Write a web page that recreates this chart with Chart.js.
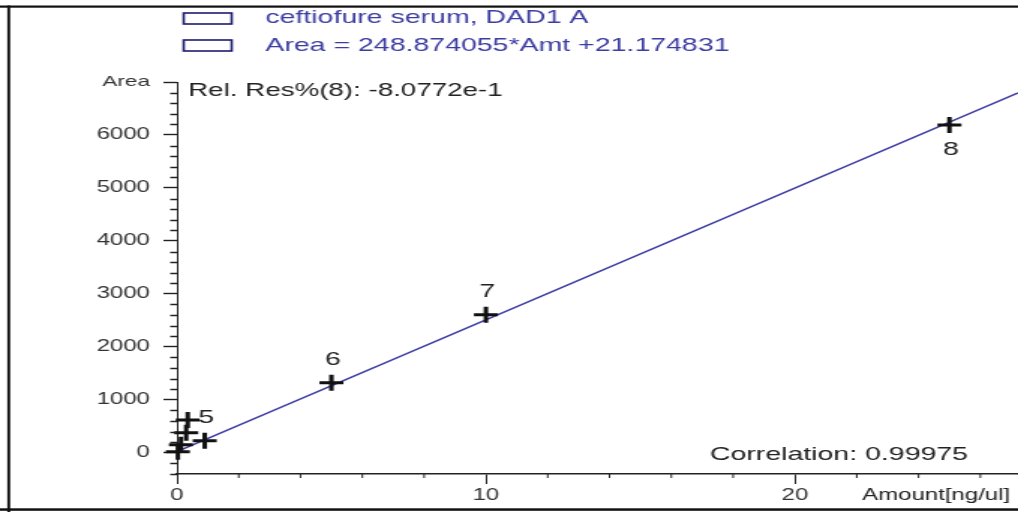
<!DOCTYPE html>
<html>
<head>
<meta charset="utf-8">
<script src="https://cdn.jsdelivr.net/npm/chart.js@4.4.1/dist/chart.umd.min.js"></script>
<style>
  html, body { margin: 0; padding: 0; background: #fff; overflow: hidden; }
  #wrap { width: 1018px; height: 512px; overflow: hidden; }
  #plot { transform-origin: 0 0; transform: scaleX(1.4993); }
</style>
</head>
<body>
<div id="wrap"><canvas id="plot" width="679" height="512"></canvas></div>
<script>
// DATA
const amounts = [0.03, 0.13, 0.3, 0.35, 0.9, 5, 10, 25];
const areas = [20, 150, 380, 620, 230, 1321, 2604, 6190];
const pointLabels = ["", "", "", "", "5", "6", "7", "8"];
const labelBelow = [false, false, false, false, false, false, false, true];

// calibration line, ends
const fitAmounts = [0, 27.22];
const fitAreas = [21, 6795];

const yMajor = [0, 1000, 2000, 3000, 4000, 5000, 6000, 7000];
const yMajorLabels = ["0", "1000", "2000", "3000", "4000", "5000", "6000", "Area"];
const xMajor = [0, 10, 20];
const xMajorLabels = ["0", "10", "20"];

const legendLines = ["ceftiofure serum, DAD1 A", "Area = 248.874055*Amt +21.174831"];
const relResText = "Rel. Res%(8): -8.0772e-1";
const correlationText = "Correlation: 0.99975";
const xTitle = "Amount[ng/ul]";

// STYLE
const FONT = "'Liberation Sans', Arial, sans-serif";
const INK = "#222";
const BLUE = "#3c3ca2";

// EXTRAS (frame, minor ticks, texts)
const extras = {
	id: "extras",
	beforeDraw(chart) {
		const ctx = chart.ctx;
		ctx.save();
		ctx.fillStyle = "#fff";
		ctx.fillRect(0, 0, chart.width, chart.height);
		ctx.fillStyle = "#111";
		ctx.fillRect(0, 5.5, chart.width, 2.2);
		ctx.fillRect(4.9, 5.5, 1.9, chart.height);
		ctx.fillRect(0, 508.3, chart.width, 2.5);
		ctx.restore();
	},
	afterDraw(chart) {
		const ctx = chart.ctx;
		const xs = chart.scales.x;
		const ys = chart.scales.y;
		const area = chart.chartArea;
		ctx.save();

		// minor ticks
		ctx.strokeStyle = INK;
		ctx.lineWidth = 1.3;
		ctx.beginPath();
		ys.ticks.forEach(t => {
			if (yMajor.indexOf(t.value) >= 0) return;
			const py = Math.round(ys.getPixelForValue(t.value)) + 0.5;
			ctx.moveTo(area.left - 4.5, py);
			ctx.lineTo(area.left, py);
		});
		ctx.stroke();
		ctx.lineWidth = 1;
		ctx.beginPath();
		xs.ticks.forEach(t => {
			if (xMajor.indexOf(t.value) >= 0) return;
			const px = xs.getPixelForValue(t.value);
			ctx.moveTo(px, area.bottom);
			ctx.lineTo(px, area.bottom + 4);
		});
		ctx.stroke();

		// legend
		ctx.strokeStyle = "#1c1c6e";
		ctx.lineWidth = 1.6;
		ctx.strokeRect(122.5, 13, 32, 11);
		ctx.strokeRect(122.5, 40, 32, 11);
		ctx.fillStyle = BLUE;
		ctx.font = "19px " + FONT;
		ctx.textAlign = "left";
		ctx.textBaseline = "middle";
		ctx.fillText(legendLines[0], 177, 18);
		ctx.fillText(legendLines[1], 177, 46);

		// notes
		ctx.fillStyle = INK;
		ctx.font = "18.5px " + FONT;
		ctx.fillText(relResText, 125.5, 91);
		ctx.font = "19px " + FONT;
		ctx.fillText(correlationText, 473.5, 455);
		ctx.font = "16px " + FONT;
		ctx.fillText(xTitle, 575, 496);

		// point labels
		const meta = chart.getDatasetMeta(1);
		ctx.font = "19px " + FONT;
		ctx.textAlign = "center";
		meta.data.forEach((p, i) => {
			if (!pointLabels[i]) return;
			ctx.fillText(pointLabels[i], p.x + 1, labelBelow[i] ? p.y + 25 : p.y - 23);
		});
		ctx.restore();
	}
};

// CONFIG
const config = {
	type: "scatter",
	data: {
		datasets: [
			{
				type: "line",
				data: fitAmounts.map((a, i) => ({ x: a, y: fitAreas[i] })),
				borderColor: BLUE,
				borderWidth: 1.4,
				pointRadius: 0,
				fill: false,
				order: 2,
			},
			{
				data: amounts.map((a, i) => ({ x: a, y: areas[i] })),
				pointStyle: "cross",
				pointRadius: 8,
				pointHoverRadius: 8,
				borderColor: "#111",
				borderWidth: 3,
				clip: false,
				order: 1,
			},
		],
	},
	options: {
		responsive: false,
		devicePixelRatio: 1,
		animation: false,
		events: [],
		layout: { autoPadding: false, padding: { left: 0, right: 0, top: 82, bottom: 0 } },
		plugins: { legend: { display: false }, tooltip: { enabled: false } },
		scales: {
			x: {
				type: "linear",
				min: 0,
				max: 27.22,
				afterFit(scale) {
					scale.height = 38;
					scale.paddingRight = 0;
					scale.paddingLeft = 0;
				},
				border: { color: INK, width: 1.5 },
				grid: {
					drawOnChartArea: false,
					tickLength: 10,
					tickWidth: 1,
					tickColor: c => (c.tick && xMajor.indexOf(c.tick.value) >= 0 ? INK : "rgba(0,0,0,0)"),
				},
				ticks: {
					stepSize: 2,
					autoSkip: false,
					includeBounds: false,
					maxRotation: 0,
					padding: 2,
					color: "#333",
					font: { family: FONT, size: 16 },
					callback: v => { const i = xMajor.indexOf(v); return i >= 0 ? xMajorLabels[i] : ""; },
				},
			},
			y: {
				type: "linear",
				min: -400,
				max: 7000,
				afterFit(scale) { scale.width = 118; },
				border: { color: INK, width: 1 },
				grid: {
					drawOnChartArea: false,
					tickLength: 9,
					tickWidth: 1.4,
					tickColor: c => (c.tick && yMajor.indexOf(c.tick.value) >= 0 ? INK : "rgba(0,0,0,0)"),
				},
				ticks: {
					stepSize: 200,
					autoSkip: false,
					includeBounds: false,
					padding: 9,
					color: "#333",
					font: c => ({ family: FONT, size: c.tick && c.tick.value === 7000 ? 15 : 16 }),
					callback: v => { const i = yMajor.indexOf(v); return i >= 0 ? yMajorLabels[i] : ""; },
				},
			},
		},
	},
	plugins: [extras],
};

// RENDER
const myChart = new Chart(document.getElementById("plot"), config);
</script>
</body>
</html>
